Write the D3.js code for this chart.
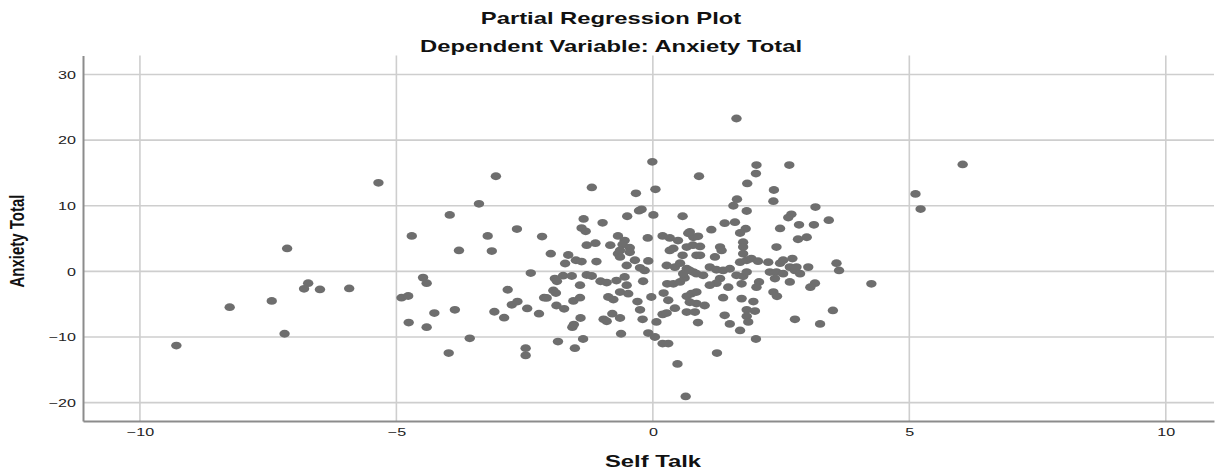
<!DOCTYPE html>
<html>
<head>
<meta charset="utf-8">
<script src="https://cdn.jsdelivr.net/npm/d3@7"></script>
<style>
  body { margin: 0; background: #fff; }
  svg { display: block; font-family: "Liberation Sans", Arial, sans-serif; }
</style>
</head>
<body>
<div id="chart"></div>
<script>
// values
const selfTalk = [
  -9.29,-8.25,-7.43,-7.13,-7.18,-6.72,-6.80,-6.49,-5.92,-5.35,
  -4.90,-4.77,-4.76,-4.70,-4.48,-4.41,-4.41,-4.26,-3.96,-3.98,
  -3.86,-3.78,-3.57,-3.39,-3.06,-3.22,-3.14,-3.09,-2.90,-2.83,
  -2.75,-2.64,-2.65,-2.45,-2.48,-2.48,-2.38,-2.22,-2.16,-1.99,
  -1.85,-1.91,-1.87,-1.75,-1.58,-1.94,-1.89,-2.12,-2.07,-1.88,
  -1.73,-1.65,-1.71,-1.50,-1.39,-1.52,-1.36,-1.42,-1.55,-1.42,
  -1.41,-1.57,-1.54,-1.35,-1.39,-1.31,-1.19,-1.29,-1.12,-1.10,
  -1.29,-1.19,-1.02,-0.90,-0.98,-0.83,-0.87,-0.77,-0.79,-0.96,
  -0.90,-0.68,-0.55,-0.59,-0.45,-0.68,-0.64,-0.45,-0.64,-0.50,
  -0.51,-0.71,-0.55,-0.51,-0.64,-0.48,-0.64,-0.62,-0.35,-0.25,
  -0.16,-0.09,-0.33,-0.22,-0.27,-0.10,-0.30,-0.19,-0.25,-0.20,
  -0.09,0.04,-0.03,-0.01,0.05,0.01,0.90,0.58,0.19,0.33,
  0.49,0.69,0.79,0.40,0.66,0.33,0.58,0.85,0.27,0.43,
  0.53,0.66,0.79,0.28,0.40,0.53,0.62,0.66,0.75,0.85,
  0.66,0.82,0.85,0.88,0.30,0.43,0.21,0.19,0.27,0.07,
  0.19,0.30,0.48,0.64,
  1.63,2.02,2.66,2.01,1.84,2.36,2.35,1.64,1.57,1.83,
  3.17,2.70,2.64,3.43,2.85,3.14,2.48,1.40,1.60,1.14,
  1.81,1.70,0.72,0.88,2.83,3.00,2.41,1.76,1.76,1.31,
  0.92,1.34,1.76,1.21,1.70,1.83,1.92,2.05,2.25,2.48,
  2.54,2.72,2.67,2.77,2.87,3.03,3.58,3.63,4.26,3.51,
  3.16,3.07,2.67,2.77,3.26,2.28,2.41,2.54,2.38,2.35,
  2.42,2.07,2.02,1.63,1.76,1.83,1.73,1.47,1.31,1.24,
  1.11,1.37,1.73,1.96,1.83,1.99,1.83,1.86,1.40,1.50,
  1.70,2.01,1.25,0.72,1.01,0.59,0.72,0.85,0.98,1.11,
  1.24,1.37,1.50,0.92,0.78,6.04,5.12,5.22,2.80
];
const anxietyTotal = [
  -11.3,-5.45,-4.5,3.5,-9.5,-1.8,-2.65,-2.75,-2.6,13.5,
  -4.0,-3.75,-7.8,5.4,-0.95,-1.8,-8.5,-6.35,8.6,-12.45,
  -5.85,3.2,-10.2,10.3,14.5,5.4,3.1,-6.15,-7.05,-2.8,
  -5.1,-4.6,6.45,-5.65,-11.7,-12.8,-0.25,-6.45,5.3,2.7,
  -10.7,-1.1,-1.5,-0.65,-0.7,-2.9,-3.3,-4.0,-4.05,-5.2,
  -5.7,2.5,1.2,1.7,1.5,-11.7,-10.3,-2.1,-4.5,-4.0,
  -7.1,-8.5,-8.1,8.0,6.6,6.1,12.8,4.0,4.3,1.5,
  -0.55,-0.7,-1.5,-1.7,7.4,4.0,-3.9,-4.3,-6.45,-7.3,
  -7.6,5.4,4.7,4.1,3.6,2.7,2.2,2.9,3.2,8.4,
  0.9,-1.4,-0.85,-2.1,-3.15,-3.4,-7.1,-9.5,1.7,0.55,
  0.15,1.6,11.9,9.45,9.25,5.1,-4.6,-1.5,-5.85,-7.3,
  -9.4,-10.0,-3.9,16.7,12.5,8.6,14.5,8.4,5.4,5.1,
  4.7,5.8,5.2,3.5,3.7,3.2,2.45,2.45,0.9,0.65,
  1.25,0.4,-0.1,-1.9,-1.9,-1.6,-1.0,-3.8,-3.4,-3.15,
  -6.2,-6.2,-4.9,-7.8,-4.4,-5.6,-3.3,-6.55,-6.35,-7.7,
  -11.0,-11.0,-14.1,-19.05,
  23.3,16.2,16.2,14.9,13.4,12.4,10.7,11.0,10.0,9.2,
  9.8,8.7,8.2,7.8,7.1,7.1,6.55,7.35,7.5,6.35,
  6.5,5.85,6.0,5.35,4.9,5.2,3.7,4.45,3.7,3.7,
  3.8,3.2,2.7,2.2,1.4,1.7,1.95,1.55,1.4,1.25,
  1.7,1.95,0.65,0.15,-0.35,0.65,1.25,0.15,-1.9,-5.95,
  -1.8,-2.4,-1.6,-7.3,-8.0,-0.1,-0.1,-0.35,-1.1,-3.15,
  -3.8,-1.6,-2.4,-0.6,-0.75,-0.1,-1.9,-2.4,-1.1,-1.8,
  -2.1,-4.0,-4.15,-4.6,-5.85,-6.05,-6.85,-7.7,-6.7,-8.0,
  -9.0,-10.3,-12.45,-4.7,-5.2,-0.35,0.15,-0.35,-0.6,0.65,
  0.25,0.15,0.4,2.45,4.0,16.3,11.8,9.5,0.65
];
const xTicks = [-10, -5, 0, 5, 10];
const yTicks = [-20, -10, 0, 10, 20, 30];

const width = 1222, height = 472;
const stretch = 1.4;   // text in the picture is drawn wide

const svg = d3.select('#chart').append('svg')
  .attr('width', width)
  .attr('height', height);

const x = d3.scaleLinear().domain([-11.11, 10.94]).range([83, 1214]);
const y = d3.scaleLinear().domain([-22.8, 32.9]).range([421, 55.5]);

// grid
svg.append('g').selectAll('line')
  .data(xTicks)
  .join('line')
  .attr('x1', d => x(d)).attr('x2', d => x(d))
  .attr('y1', y.range()[1]).attr('y2', y.range()[0])
  .attr('stroke', '#cecece')
  .attr('stroke-width', 1.6);

svg.append('g').selectAll('line')
  .data(yTicks)
  .join('line')
  .attr('x1', x.range()[0]).attr('x2', x.range()[1])
  .attr('y1', d => y(d)).attr('y2', d => y(d))
  .attr('stroke', '#cecece')
  .attr('stroke-width', 1.6);

// axes
let xAxis = svg.append('g')
  .attr('transform', 'translate(0,' + y.range()[0] + ')')
  .call(d3.axisBottom(x).tickValues(xTicks).tickSize(0).tickPadding(7).tickFormat(d3.format('d')));
xAxis.select('.domain').attr('stroke', '#8c8c8c').attr('stroke-width', 2);
xAxis.selectAll('text')
  .attr('font-size', 11.5)
  .attr('fill', '#222')
  .attr('font-family', '"Liberation Sans", Arial, sans-serif')
  .attr('transform', 'scale(' + stretch + ',1)');

let yAxis = svg.append('g')
  .attr('transform', 'translate(' + x.range()[0] + ',0)')
  .call(d3.axisLeft(y).tickValues(yTicks).tickSize(0).tickPadding(7).tickFormat(d3.format('d')));
yAxis.select('.domain').attr('stroke', '#8c8c8c').attr('stroke-width', 2);
yAxis.selectAll('text')
  .attr('font-size', 11.5)
  .attr('fill', '#222')
  .attr('font-family', '"Liberation Sans", Arial, sans-serif')
  .attr('x', -7 / stretch)
  .attr('transform', 'scale(' + stretch + ',1)');

// points
svg.append('g').selectAll('ellipse')
  .data(d3.range(selfTalk.length))
  .join('ellipse')
  .attr('cx', i => x(selfTalk[i]))
  .attr('cy', i => y(anxietyTotal[i]))
  .attr('rx', 5.2)
  .attr('ry', 3.9)
  .attr('fill', '#6e6e6e');

// titles
function label(txt, cx, cy, size, rot) {
  let t = svg.append('text')
    .text(txt)
    .attr('font-size', size)
    .attr('font-weight', 'bold')
    .attr('fill', '#111')
    .style('text-anchor', 'middle');
  if (rot) {
    t.attr('transform', 'translate(' + cx + ',' + cy + ') scale(' + stretch + ',1) rotate(-90)');
  } else {
    t.attr('transform', 'translate(' + cx + ',' + cy + ') scale(' + stretch + ',1)');
  }
}
label('Partial Regression Plot', 611, 24, 17);
label('Dependent Variable: Anxiety Total', 611, 52, 17);
label('Self Talk', 653, 467, 17);
label('Anxiety Total', 24, 241, 15, true);
</script>
</body>
</html>
